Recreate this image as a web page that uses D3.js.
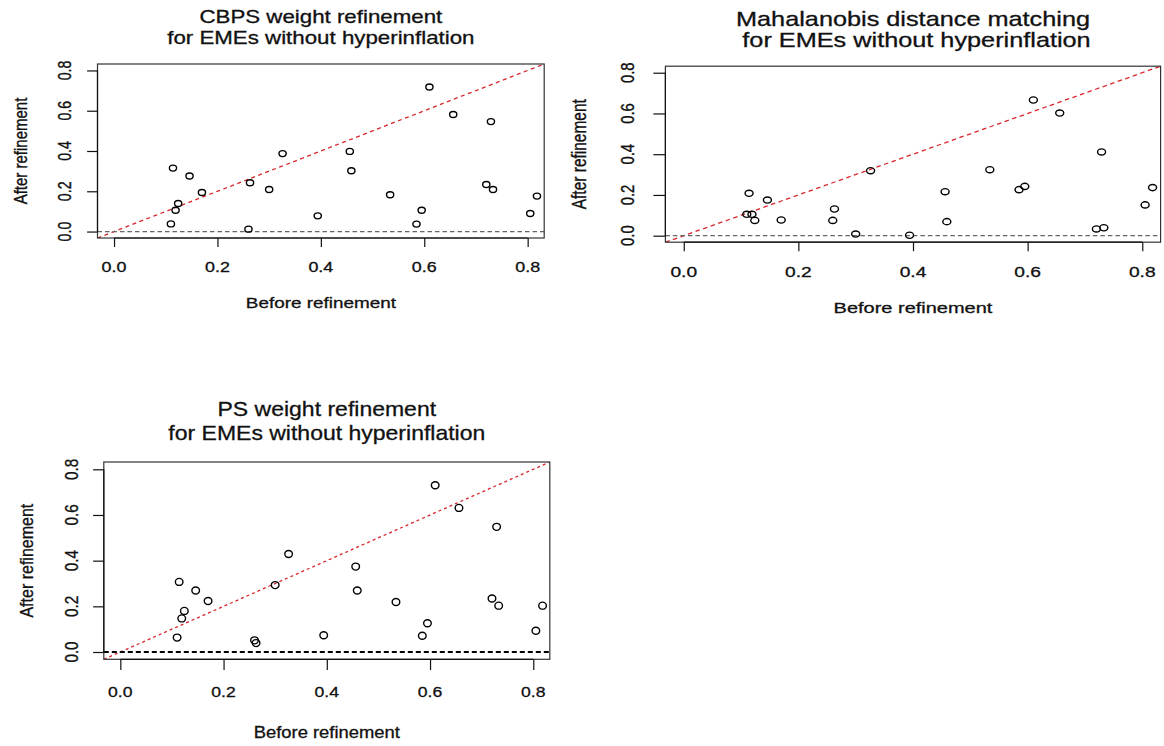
<!DOCTYPE html>
<html>
<head>
<meta charset="utf-8">
<script src="https://cdn.jsdelivr.net/npm/d3@7"></script>
<style>
  html, body { margin: 0; padding: 0; background: #fff; }
  svg { display: block; }
  text { font-family: "Liberation Sans", Arial, sans-serif; fill: #111; stroke: #111; stroke-width: 0.3; white-space: pre; }
</style>
</head>
<body>
<svg id="chart" width="1164" height="746"></svg>
<script>
// === DATA ===
const beforeRef = [0.110, 0.114, 0.119, 0.124, 0.146, 0.170, 0.260, 0.263, 0.300, 0.326, 0.394, 0.456,
                   0.459, 0.534, 0.585, 0.595, 0.610, 0.656, 0.720, 0.729, 0.733, 0.805, 0.818];
const afterCBPS = [0.038, 0.315, 0.106, 0.139, 0.276, 0.194, 0.012, 0.242, 0.209, 0.387, 0.078, 0.398,
                   0.302, 0.183, 0.037, 0.106, 0.718, 0.581, 0.234, 0.546, 0.209, 0.090, 0.176];
const afterMahal = [0.105, 0.208, 0.105, 0.075, 0.175, 0.077, 0.075, 0.131, 0.008, 0.319, 0.002, 0.216,
                    0.069, 0.324, 0.226, 0.242, 0.666, 0.602, 0.033, 0.411, 0.039, 0.151, 0.236];
const afterPS = [0.063, 0.307, 0.147, 0.180, 0.269, 0.223, 0.051, 0.039, 0.293, 0.429, 0.073, 0.374,
                 0.269, 0.219, 0.071, 0.126, 0.730, 0.631, 0.234, 0.548, 0.203, 0.093, 0.203];
const axisTicks = [0, 0.2, 0.4, 0.6, 0.8];
const axisLimits = [-0.032, 0.832];
const titlesCBPS = ["CBPS weight refinement", "for EMEs without hyperinflation"];
const titlesMahal = ["Mahalanobis distance matching", " for EMEs without hyperinflation"];
const titlesPS = ["PS weight refinement", "for EMEs without hyperinflation"];
const xLabel = "Before refinement";
const yLabel = "After refinement";

// === LAYOUT (the three pasted R plots have different stretch) ===
const panels = [
  { after: afterCBPS, titles: titlesCBPS,
    box: [97.5, 544.2, 64, 238], k: 1.26,
    tickFont: 14.2, labFont: 15, titleFont: 17.7, titleBase: [22.7, 44.3],
    xTickBase: 271.7, yTickBase: 71, xLabBase: 308.3, yLabBase: 26.7,
    tickX: 9, tickY: 10.4, rx: 3.6, ry: 3.0,
    zero: { color: "#666", width: 1.2, dash: "4.5,3" }, red: "4,3.5" },
  { after: afterMahal, titles: titlesMahal,
    box: [665.4, 1160.6, 66.2, 242.2], k: 1.29,
    tickFont: 14.9, labFont: 15.5, titleFont: 19.6, titleBase: [25.7, 46.7],
    xTickBase: 276.7, yTickBase: 634, xLabBase: 313.3, yLabBase: 586,
    tickX: 9, tickY: 12, rx: 4.0, ry: 3.1,
    zero: { color: "#666", width: 1.2, dash: "4.5,3" }, red: "4.5,3.5" },
  { after: afterPS, titles: titlesPS,
    box: [103.8, 549.8, 462, 659.3], k: 1.15,
    tickFont: 15.3, labFont: 16, titleFont: 20, titleBase: [416, 440],
    xTickBase: 696.7, yTickBase: 77.7, xLabBase: 737.7, yLabBase: 33.3,
    tickX: 10.7, tickY: 10.7, rx: 3.8, ry: 3.5,
    zero: { color: "#000", width: 1.8, dash: "5,3" }, red: "3,3" }
];

const svg = d3.select("#chart");
svg.append("rect").attr("width", 1164).attr("height", 746).attr("fill", "#fff");

// text stretched horizontally by k (rotated text: stretched across its glyph height)
function stext(g, str, x, y, size, k, rotated) {
  return g.append("text")
    .attr("transform", rotated
      ? `translate(${x},${y}) rotate(-90) scale(1,${k})`
      : `translate(${x},${y}) scale(${k},1)`)
    .attr("font-size", size)
    .attr("text-anchor", "middle")
    .text(str);
}

panels.forEach((p, i) => {
  const [x0, x1, y0, y1] = p.box;
  const x = d3.scaleLinear().domain(axisLimits).range([x0, x1]);
  const y = d3.scaleLinear().domain(axisLimits).range([y1, y0]);
  const g = svg.append("g").attr("class", "panel");

  const clipId = "clip" + i;
  g.append("clipPath").attr("id", clipId)
    .append("rect").attr("x", x0).attr("y", y0).attr("width", x1 - x0).attr("height", y1 - y0);

  const inner = g.append("g").attr("clip-path", `url(#${clipId})`);

  // ligne 45 degres
  inner.append("line")
    .attr("x1", x(axisLimits[0])).attr("y1", y(axisLimits[0]))
    .attr("x2", x(axisLimits[1])).attr("y2", y(axisLimits[1]))
    .attr("stroke", "#d9262b").attr("stroke-width", 1.3)
    .attr("stroke-dasharray", p.red);

  // ligne y = 0
  inner.append("line")
    .attr("x1", x0).attr("x2", x1)
    .attr("y1", y(0)).attr("y2", y(0))
    .attr("stroke", p.zero.color).attr("stroke-width", p.zero.width)
    .attr("stroke-dasharray", p.zero.dash);

  // points
  inner.selectAll("ellipse")
    .data(beforeRef.map((b, j) => [b, p.after[j]]))
    .enter().append("ellipse")
    .attr("cx", d => x(d[0]))
    .attr("cy", d => y(d[1]))
    .attr("rx", p.rx).attr("ry", p.ry)
    .attr("fill", "none").attr("stroke", "#000").attr("stroke-width", 1.4);

  // cadre
  g.append("rect")
    .attr("x", x0).attr("y", y0).attr("width", x1 - x0).attr("height", y1 - y0)
    .attr("fill", "none").attr("stroke", "#333").attr("stroke-width", 1.2);

  // axes (R style: ticks outside, line from first to last tick)
  const xAxis = g.append("g").attr("transform", `translate(0,${y1})`)
    .call(d3.axisBottom(x).tickValues(axisTicks).tickSize(p.tickX).tickFormat(""));
  const yAxis = g.append("g").attr("transform", `translate(${x0},0)`)
    .call(d3.axisLeft(y).tickValues(axisTicks).tickSize(p.tickY).tickFormat(""));
  [xAxis, yAxis].forEach(a => {
    a.select(".domain").remove();
    a.selectAll("line").attr("stroke", "#111").attr("stroke-width", 1.2);
  });
  g.append("line").attr("x1", x(0)).attr("x2", x(0.8)).attr("y1", y1).attr("y2", y1)
    .attr("stroke", "#111").attr("stroke-width", 1.2);
  g.append("line").attr("x1", x0).attr("x2", x0).attr("y1", y(0)).attr("y2", y(0.8))
    .attr("stroke", "#111").attr("stroke-width", 1.2);

  const fmt = d3.format(".1f");
  axisTicks.forEach(t => {
    stext(g, fmt(t), x(t), p.xTickBase, p.tickFont, p.k, false);
    stext(g, fmt(t), p.yTickBase, y(t), p.tickFont, p.k, true);
  });

  // titres
  const cx = (x0 + x1) / 2;
  p.titles.forEach((t, j) => stext(g, t, cx, p.titleBase[j], p.titleFont, p.k, false));
  stext(g, xLabel, cx, p.xLabBase, p.labFont, p.k, false);
  stext(g, yLabel, p.yLabBase, (y0 + y1) / 2, p.labFont, p.k, true);
});
</script>
</body>
</html>
